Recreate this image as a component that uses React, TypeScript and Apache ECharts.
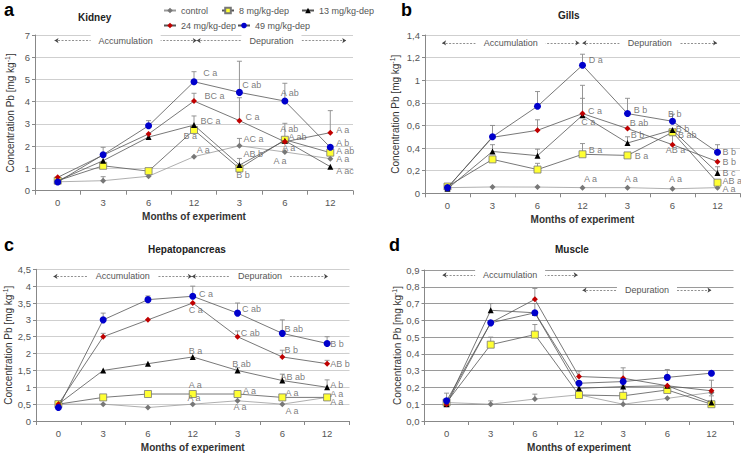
import React, { useEffect, useRef } from 'react';
import * as echarts from 'echarts';

const months = ['0', '3', '6', '12', '3', '6', '12'];
const seriesNames = ['control', '8 mg/kg-dep', '13 mg/kg-dep', '24 mg/kg-dep', '49 mg/kg-dep'];

// Kidney
const kidneyControl = [0.4, 0.45, 0.65, 1.53, 2.02, 1.74, 1.44];
const kidney8 = [0.45, 1.12, 0.88, 2.73, 1.0, 2.29, 1.71];
const kidney13 = [0.45, 1.35, 2.41, 2.95, 1.15, 2.25, 1.08];
const kidney24 = [0.6, 1.6, 2.55, 4.03, 3.15, 2.2, 2.61];
const kidney49 = [0.39, 1.62, 2.92, 4.9, 4.42, 4.03, 1.95];
// [category, series, upper error]
const kidneyErr = [[1, 0, 0.63], [1, 4, 1.95], [2, 4, 3.15], [3, 4, 5.35], [3, 3, 4.38], [3, 2, 3.36], [4, 4, 5.82], [4, 3, 4.18], [4, 0, 2.35], [4, 2, 1.45], [5, 4, 4.83], [5, 1, 3.03], [6, 3, 3.6]];
const kidneyNotes: [number, number, string][] = [
  [3.19, 5.28, 'C a'], [4.05, 4.75, 'C ab'], [4.9, 4.38, 'A ab'], [3.22, 4.26, 'BC a'], [4.12, 3.33, 'C a'],
  [3.13, 3.15, 'BC a'], [2.76, 2.46, 'B a'], [4.89, 2.76, 'A ab'], [5.07, 2.4, 'A ab'], [4.08, 2.31, 'AC a'],
  [3.05, 1.83, 'A a'], [4.93, 1.9, 'A a'], [4.08, 1.64, 'AB b'], [4.74, 1.35, 'A a'], [3.92, 0.71, 'B b'],
  [6.12, 2.73, 'A a'], [6.12, 2.16, 'A b'], [6.12, 1.8, 'A ab'], [6.12, 1.43, 'A a'], [6.12, 0.9, 'A ac'],
];
const kidneyPhases: [number, number, number, string][] = [[-0.07, 3.06, 6.75, 'Accumulation'], [3.06, 6.35, 6.75, 'Depuration']];

// Gills
const gillsControl = [0.05, 0.056, 0.055, 0.05, 0.05, 0.04, 0.05];
const gills8 = [0.06, 0.3, 0.21, 0.345, 0.335, 0.54, 0.094];
const gills13 = [0.04, 0.37, 0.333, 0.69, 0.445, 0.56, 0.18];
const gills24 = [0.05, 0.495, 0.557, 0.705, 0.572, 0.43, 0.28];
const gills49 = [0.05, 0.5, 0.77, 1.133, 0.705, 0.637, 0.363];
const gillsErr = [[1, 4, 0.6], [1, 2, 0.43], [2, 4, 0.9], [2, 3, 0.65], [2, 2, 0.39], [2, 1, 0.265], [3, 4, 1.23], [3, 3, 0.955], [3, 2, 0.84], [3, 1, 0.44], [4, 4, 0.84], [4, 2, 0.5], [5, 3, 0.51], [5, 4, 0.7], [6, 4, 0.43], [6, 2, 0.235]];
const gillsNotes: [number, number, string][] = [
  [3.13, 1.18, 'D a'], [3.11, 0.73, 'C a'], [2.96, 0.63, 'C a'], [4.13, 0.74, 'B b'], [4.04, 0.62, 'B ab'],
  [4.06, 0.52, 'B b'], [4.89, 0.7, 'B b'], [5.06, 0.57, 'B b'], [5.11, 0.52, 'B ab'], [4.84, 0.38, 'AB a'],
  [3.13, 0.38, 'B a'], [4.15, 0.33, 'B a'], [3.02, 0.124, 'A a'], [3.93, 0.124, 'A a'], [4.91, 0.124, 'A a'],
  [6.1, 0.365, 'B b'], [6.1, 0.28, 'B b'], [6.1, 0.18, 'B c'], [6.1, 0.11, 'AB a'], [6.1, 0.035, 'A a'],
];
const gillsPhases: [number, number, number, string][] = [[-0.12, 2.93, 1.33, 'Accumulation'], [3.0, 5.99, 1.33, 'Depuration']];

// Hepatopancreas
const hepControl = [0.5, 0.5, 0.4, 0.5, 0.6, 0.5, 0.7];
const hep8 = [0.5, 0.7, 0.8, 0.8, 0.8, 0.7, 0.7];
const hep13 = [0.5, 1.5, 1.7, 1.9, 1.5, 1.2, 1.0];
const hep24 = [0.5, 2.5, 3.0, 3.5, 2.5, 1.9, 1.7];
const hep49 = [0.4, 3.0, 3.6, 3.7, 3.2, 2.6, 2.3];
const hepErr = [[1, 4, 3.2], [2, 4, 3.71], [3, 4, 4.0], [4, 4, 3.5], [5, 4, 3.0], [6, 4, 2.5], [1, 3, 2.6], [4, 3, 2.67], [5, 3, 2.1], [6, 3, 1.8], [4, 2, 1.58], [5, 2, 1.39], [6, 2, 1.22]];
const hepNotes: [number, number, string][] = [
  [3.13, 3.78, 'C a'], [2.9, 3.3, 'C a'], [4.09, 3.31, 'C ab'], [4.06, 2.6, 'C ab'], [5.04, 2.72, 'B ab'],
  [5.04, 2.1, 'B b'], [6.06, 2.27, 'B b'], [6.06, 1.7, 'AB b'], [2.9, 2.09, 'B a'], [3.87, 1.7, 'B ab'],
  [4.95, 1.3, 'AB ab'], [6.06, 1.08, 'A b'], [2.9, 1.08, 'A a'], [4.11, 0.89, 'A a'], [5.06, 0.84, 'A a'],
  [6.06, 0.8, 'A a'], [6.06, 0.56, 'A a'], [2.87, 0.68, 'A a'], [3.9, 0.43, 'A a'], [5.06, 0.3, 'A a'],
];
const hepPhases: [number, number, number, string][] = [[-0.11, 2.98, 4.29, 'Accumulation'], [2.98, 6.02, 4.29, 'Depuration']];

// Muscle
const musControl = [0.11, 0.1, 0.131, 0.156, 0.1, 0.135, 0.17];
const mus8 = [0.11, 0.455, 0.515, 0.155, 0.15, 0.185, 0.1];
const mus13 = [0.1, 0.66, 0.645, 0.195, 0.205, 0.21, 0.11];
const mus24 = [0.1, 0.585, 0.725, 0.265, 0.255, 0.21, 0.18];
const mus49 = [0.12, 0.585, 0.645, 0.225, 0.235, 0.26, 0.285];
const musErr = [[0, 4, 0.166], [1, 2, 0.7], [1, 1, 0.5], [1, 0, 0.12], [2, 3, 0.79], [2, 2, 0.7], [2, 1, 0.575], [2, 0, 0.16], [3, 3, 0.297], [4, 3, 0.317], [4, 1, 0.214], [4, 0, 0.13], [5, 4, 0.307], [6, 3, 0.243], [6, 2, 0.15]];
const musNotes: [number, number, string][] = [];
const musPhases: [number, number, number, string][] = [[-0.09, 2.97, 0.87, 'Accumulation'], [3.08, 6.0, 0.78, 'Depuration']];

const FONT = '"Liberation Sans", Arial, sans-serif';

const fmtComma = (v: number) => String(Number(v.toFixed(1))).replace('.', ',');
const fmtFixed = (v: number) => v.toFixed(1).replace('.', ',');

const panels = [
  { letter: 'a', title: 'Kidney', values: [kidneyControl, kidney8, kidney13, kidney24, kidney49], err: kidneyErr, notes: kidneyNotes, phases: kidneyPhases,
    yMax: 7, yInt: 1, fmt: (v: number) => String(v), grid: { left: 35, top: 35, width: 318, height: 155.7 }, gridColor: '#cfcfcf', nameGap: 18,
    letterPos: { left: 4, top: 1 }, titlePos: { left: 78, top: 12 } },
  { letter: 'b', title: 'Gills', values: [gillsControl, gills8, gills13, gills24, gills49], err: gillsErr, notes: gillsNotes, phases: gillsPhases,
    yMax: 1.4, yInt: 0.2, fmt: fmtComma, grid: { left: 425, top: 35, width: 315, height: 158.3 }, gridColor: '#cfcfcf', nameGap: 23,
    letterPos: { left: 401, top: 1 }, titlePos: { left: 558, top: 10 } },
  { letter: 'c', title: 'Hepatopancreas', values: [hepControl, hep8, hep13, hep24, hep49], err: hepErr, notes: hepNotes, phases: hepPhases,
    yMax: 4.5, yInt: 0.5, fmt: fmtComma, grid: { left: 36, top: 269.3, width: 313.5, height: 156 }, gridColor: '#cfcfcf', nameGap: 19,
    letterPos: { left: 4, top: 236 }, titlePos: { left: 148, top: 244 } },
  { letter: 'd', title: 'Muscle', values: [musControl, mus8, mus13, mus24, mus49], err: musErr, notes: musNotes, phases: musPhases,
    yMax: 0.9, yInt: 0.1, fmt: fmtFixed, grid: { left: 424.5, top: 270, width: 309, height: 155.3 }, gridColor: '#9a9a9a', nameGap: 21,
    letterPos: { left: 389, top: 236 }, titlePos: { left: 555, top: 244 } },
];

const styles = [
  { symbol: 'diamond', size: 6, color: '#777777', border: '#666666', line: '#9a9a9a' },
  { symbol: 'rect', size: 7, color: '#ffff33', border: '#777777', line: '#555555' },
  { symbol: 'triangle', size: 6, color: '#000000', border: '#000000', line: '#555555' },
  { symbol: 'diamond', size: 6, color: '#c00000', border: '#c00000', line: '#555555' },
  { symbol: 'circle', size: 7, color: '#0000cc', border: '#0000cc', line: '#555555' },
];

const legendPos = [
  { left: 163, top: 6 }, { left: 221, top: 6 }, { left: 301, top: 6 },
  { left: 163, top: 21 }, { left: 237, top: 21 },
];

function buildOption() {
  const grid = panels.map((p) => ({ ...p.grid }));
  const xAxis: any[] = [];
  const yAxis: any[] = [];
  const series: any[] = [];
  const title: any[] = [];

  panels.forEach((p, i) => {
    xAxis.push({
      type: 'category', gridIndex: i, data: months,
      name: 'Months of experiment', nameLocation: 'middle', nameGap: 21,
      nameTextStyle: { fontSize: 10, fontWeight: 'bold', color: '#333', fontFamily: FONT },
      axisLine: { onZero: false, lineStyle: { color: '#888', width: 1 } },
      axisTick: { show: true, length: 4, lineStyle: { color: '#888' } },
      axisLabel: { fontSize: 9.5, color: '#555', fontFamily: FONT, margin: 7 },
    });
    xAxis.push({ type: 'value', gridIndex: i, min: -0.5, max: 6.5, show: false, splitLine: { show: false }, axisLine: { show: false, onZero: false } });
    yAxis.push({
      type: 'value', gridIndex: i, min: 0, max: p.yMax, interval: p.yInt,
      name: 'Concentration Pb [mg kg{sup|-1}]', nameLocation: 'middle', nameGap: p.nameGap,
      nameTextStyle: { fontSize: 10, color: '#333', fontFamily: FONT, rich: { sup: { fontSize: 7, padding: [0, 0, 6, 0], fontFamily: FONT, color: '#333' } } },
      axisLine: { show: true, onZero: false, lineStyle: { color: '#888', width: 1 } },
      axisTick: { show: true, length: 3, lineStyle: { color: '#888' } },
      axisLabel: { fontSize: 9.5, color: '#555', fontFamily: FONT, margin: 5, formatter: p.fmt },
      splitLine: { show: true, lineStyle: { color: p.gridColor, width: 1 } },
    });

    // error bars
    series.push({
      type: 'custom', xAxisIndex: 2 * i, yAxisIndex: i, z: 2, silent: true,
      data: p.err.map(([c, s, top]) => [c, top, p.values[s][c]]),
      renderItem: (params: any, api: any) => {
        const x = api.value(0);
        const pt = api.coord([x, api.value(1)]);
        const pb = api.coord([x, api.value(2)]);
        const st = { stroke: '#8a8a8a', lineWidth: 0.9 };
        return {
          type: 'group',
          children: [
            { type: 'line', shape: { x1: pb[0], y1: pb[1], x2: pt[0], y2: pt[1] }, style: st },
            { type: 'line', shape: { x1: pt[0] - 2.5, y1: pt[1], x2: pt[0] + 2.5, y2: pt[1] }, style: st },
          ],
        };
      },
    });

    // lines
    p.values.forEach((vals, k) => {
      const s = styles[k];
      series.push({
        type: 'line', name: seriesNames[k], xAxisIndex: 2 * i, yAxisIndex: i, z: 3 + k,
        data: vals, symbol: s.symbol, symbolSize: s.size, showSymbol: true,
        itemStyle: { color: s.color, borderColor: s.border, borderWidth: k === 1 ? 0.8 : 0 },
        lineStyle: { color: s.line, width: 0.8 },
        emphasis: { disabled: true },
      });
    });

    // significance letters + phase arrows
    series.push({
      type: 'scatter', xAxisIndex: 2 * i + 1, yAxisIndex: i, z: 10, silent: true,
      symbolSize: 1, itemStyle: { color: 'rgba(0,0,0,0)' },
      data: p.notes.map(([x, y, t]) => ({ value: [x, y], name: t })),
      label: { show: true, position: 'right', distance: 0, fontSize: 9, color: '#5a5a5a', fontFamily: FONT, formatter: (q: any) => q.name },
      markLine: {
        silent: true, symbol: ['arrow', 'arrow'], symbolSize: 4,
        lineStyle: { color: '#444', width: 0.6, type: [2, 1.5] },
        label: { show: true, position: 'middle', formatter: '{b}', fontSize: 9, color: '#555', fontFamily: FONT, backgroundColor: '#fff', padding: [1, 8], distance: 0, verticalAlign: 'middle', align: 'center' },
        data: p.phases.map(([x1, x2, y, t]) => [{ coord: [x1, y], name: t }, { coord: [x2, y] }]),
      },
    });

    title.push({ text: p.letter, left: p.letterPos.left, top: p.letterPos.top, padding: 0, textStyle: { fontSize: 18, fontWeight: 'bold', color: '#000', fontFamily: FONT } });
    title.push({ text: p.title, left: p.titlePos.left, top: p.titlePos.top, padding: 0, textStyle: { fontSize: 10, fontWeight: 'bold', color: '#222', fontFamily: FONT } });
  });

  const legend = seriesNames.map((n, k) => ({
    data: [n], left: legendPos[k].left, top: legendPos[k].top, padding: 0, selectedMode: false,
    itemWidth: 12, itemHeight: 7, itemGap: 4,
    textStyle: { fontSize: 9, color: '#555', fontFamily: FONT },
  }));

  return { animation: false, backgroundColor: '#fff', title, legend, grid, xAxis, yAxis, series };
}

export default function App() {
  const ref = useRef<HTMLDivElement>(null);
  useEffect(() => {
    if (!ref.current) return;
    const chart = echarts.init(ref.current, null, { renderer: 'svg' });
    chart.setOption(buildOption() as any);
    return () => chart.dispose();
  }, []);
  return <div ref={ref} style={{ position: 'absolute', left: 0, top: 0, width: 741, height: 453 }} />;
}
